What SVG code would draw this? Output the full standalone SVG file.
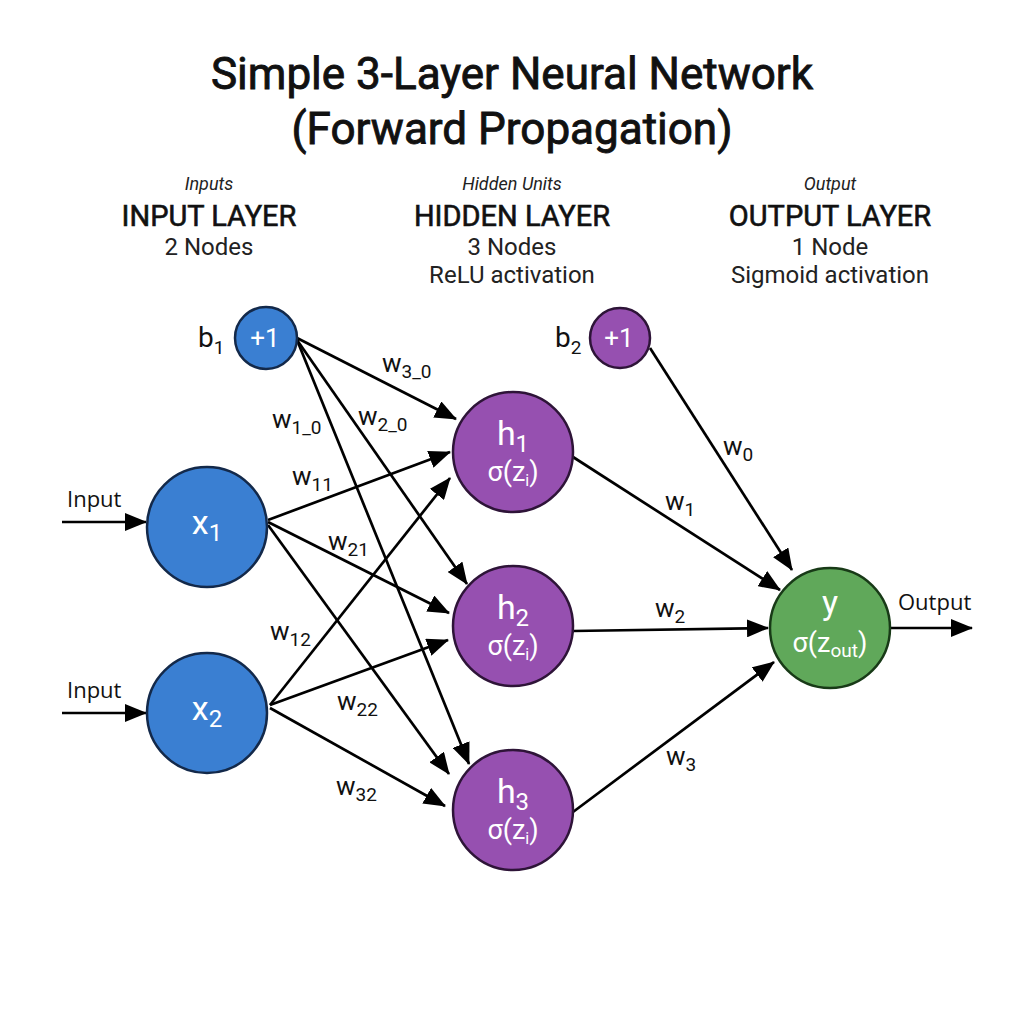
<svg xmlns="http://www.w3.org/2000/svg" width="1024" height="1024" viewBox="0 0 1024 1024">
<style>
text{font-family:Roboto,"Liberation Sans",sans-serif;fill:#111}
.title{font-size:44px;text-anchor:middle;stroke:#111;stroke-width:0.9}
.cap{font-size:18px;font-style:italic;text-anchor:middle;fill:#222}
.layer{font-size:29px;text-anchor:middle;stroke:#111;stroke-width:0.6}
.info{font-size:24px;text-anchor:middle;fill:#222}
.w{font-size:26px}
.sub{font-size:19px}
.io{font-family:"Open Sans",Roboto,sans-serif;font-size:22px}
.blue{fill:#3a7fd2;stroke:#13294a;stroke-width:2.5}
.purple{fill:#9650b0;stroke:#2e1438;stroke-width:2.5}
.green{fill:#60a85a;stroke:#183a17;stroke-width:2.5}
.nt{fill:#fff;text-anchor:middle}
.edge{stroke:#000;stroke-width:2.7;fill:none;marker-end:url(#arr)}
</style>
<defs>
<marker id="arr" viewBox="0 0 22 18" refX="21" refY="9" markerWidth="22" markerHeight="18" markerUnits="userSpaceOnUse" orient="auto">
<path d="M0,0 L22,9 L0,18 z" fill="#000"/>
</marker>
</defs>
<rect width="1024" height="1024" fill="#fff"/>
<g id="title">
<text class="title" x="512" y="89">Simple 3-Layer Neural Network</text>
<text class="title" x="512" y="144">(Forward Propagation)</text>
</g>
<g id="headers">
<text class="cap" x="209" y="190">Inputs</text>
<text class="layer" x="209" y="226">INPUT LAYER</text>
<text class="info" x="209" y="255">2 Nodes</text>
<text class="cap" x="512" y="190">Hidden Units</text>
<text class="layer" x="512" y="226">HIDDEN LAYER</text>
<text class="info" x="512" y="255">3 Nodes</text>
<text class="info" x="512" y="283">ReLU activation</text>
<text class="cap" x="830" y="190">Output</text>
<text class="layer" x="830" y="226">OUTPUT LAYER</text>
<text class="info" x="830" y="255">1 Node</text>
<text class="info" x="830" y="283">Sigmoid activation</text>
</g>
<g id="connectors">
<line class="edge" x1="62" y1="522" x2="146" y2="522"/>
<line class="edge" x1="62" y1="713" x2="146" y2="713"/>
<line class="edge" x1="297" y1="338" x2="456" y2="419"/>
<line class="edge" x1="297" y1="340" x2="467" y2="584"/>
<line class="edge" x1="297" y1="340" x2="469" y2="764"/>
<line class="edge" x1="268" y1="520" x2="450" y2="452"/>
<line class="edge" x1="268" y1="522" x2="449" y2="613"/>
<line class="edge" x1="268" y1="525" x2="449" y2="774"/>
<line class="edge" x1="270" y1="705" x2="450" y2="478"/>
<line class="edge" x1="270" y1="705" x2="448" y2="640"/>
<line class="edge" x1="270" y1="708" x2="445" y2="806"/>
<line class="edge" x1="650" y1="348" x2="792" y2="570"/>
<line class="edge" x1="573" y1="457" x2="780" y2="590"/>
<line class="edge" x1="573" y1="631" x2="768" y2="628"/>
<line class="edge" x1="573" y1="812" x2="774" y2="662"/>
<line class="edge" x1="890" y1="628" x2="972" y2="628"/>
</g>
<g id="edge-labels">
<text class="io" x="67" y="507">Input</text>
<text class="io" x="67" y="698">Input</text>
<text class="io" x="898" y="610">Output</text>
<text class="w" x="382" y="372">w<tspan class="sub" dy="6">3_0</tspan></text>
<text class="w" x="272" y="428">w<tspan class="sub" dy="6">1_0</tspan></text>
<text class="w" x="358" y="425">w<tspan class="sub" dy="6">2_0</tspan></text>
<text class="w" x="292" y="485">w<tspan class="sub" dy="6">11</tspan></text>
<text class="w" x="328" y="550">w<tspan class="sub" dy="6">21</tspan></text>
<text class="w" x="270" y="640">w<tspan class="sub" dy="6">12</tspan></text>
<text class="w" x="337" y="710">w<tspan class="sub" dy="6">22</tspan></text>
<text class="w" x="336" y="795">w<tspan class="sub" dy="6">32</tspan></text>
<text class="w" x="723" y="455">w<tspan class="sub" dy="6">0</tspan></text>
<text class="w" x="665" y="510">w<tspan class="sub" dy="6">1</tspan></text>
<text class="w" x="655" y="617">w<tspan class="sub" dy="6">2</tspan></text>
<text class="w" x="666" y="765">w<tspan class="sub" dy="6">3</tspan></text>
</g>
<g id="node-b1">
<circle class="blue" cx="266" cy="338" r="31"/>
<text class="nt" x="265" y="347" font-size="26">+1</text>
<text x="198" y="347" font-size="28">b<tspan font-size="19" dy="7">1</tspan></text>
</g>
<g id="node-x1">
<circle class="blue" cx="207" cy="527" r="60"/>
<text class="nt" x="207" y="534" font-size="34">x<tspan font-size="24" dy="7">1</tspan></text>
</g>
<g id="node-x2">
<circle class="blue" cx="207" cy="713" r="60"/>
<text class="nt" x="207" y="720" font-size="34">x<tspan font-size="24" dy="7">2</tspan></text>
</g>
<g id="node-h1">
<circle class="purple" cx="513" cy="452" r="60"/>
<text class="nt" x="513" y="445" font-size="34">h<tspan font-size="24" dy="7">1</tspan></text>
<text class="nt" x="513" y="481" font-size="27">σ(z<tspan font-size="16" dy="5">i</tspan><tspan dy="-5">)</tspan></text>
</g>
<g id="node-h2">
<circle class="purple" cx="513" cy="626" r="60"/>
<text class="nt" x="513" y="619" font-size="34">h<tspan font-size="24" dy="7">2</tspan></text>
<text class="nt" x="513" y="655" font-size="27">σ(z<tspan font-size="16" dy="5">i</tspan><tspan dy="-5">)</tspan></text>
</g>
<g id="node-h3">
<circle class="purple" cx="513" cy="810" r="60"/>
<text class="nt" x="513" y="803" font-size="34">h<tspan font-size="24" dy="7">3</tspan></text>
<text class="nt" x="513" y="839" font-size="27">σ(z<tspan font-size="16" dy="5">i</tspan><tspan dy="-5">)</tspan></text>
</g>
<g id="node-b2">
<circle class="purple" cx="620" cy="338" r="30"/>
<text class="nt" x="619" y="347" font-size="26">+1</text>
<text x="555" y="347" font-size="28">b<tspan font-size="19" dy="7">2</tspan></text>
</g>
<g id="node-y">
<circle class="green" cx="830" cy="628" r="60"/>
<text class="nt" x="830" y="614" font-size="34">y</text>
<text class="nt" x="830" y="652" font-size="27">σ(z<tspan font-size="19" dy="5">out</tspan><tspan dy="-5">)</tspan></text>
</g>
</svg>
